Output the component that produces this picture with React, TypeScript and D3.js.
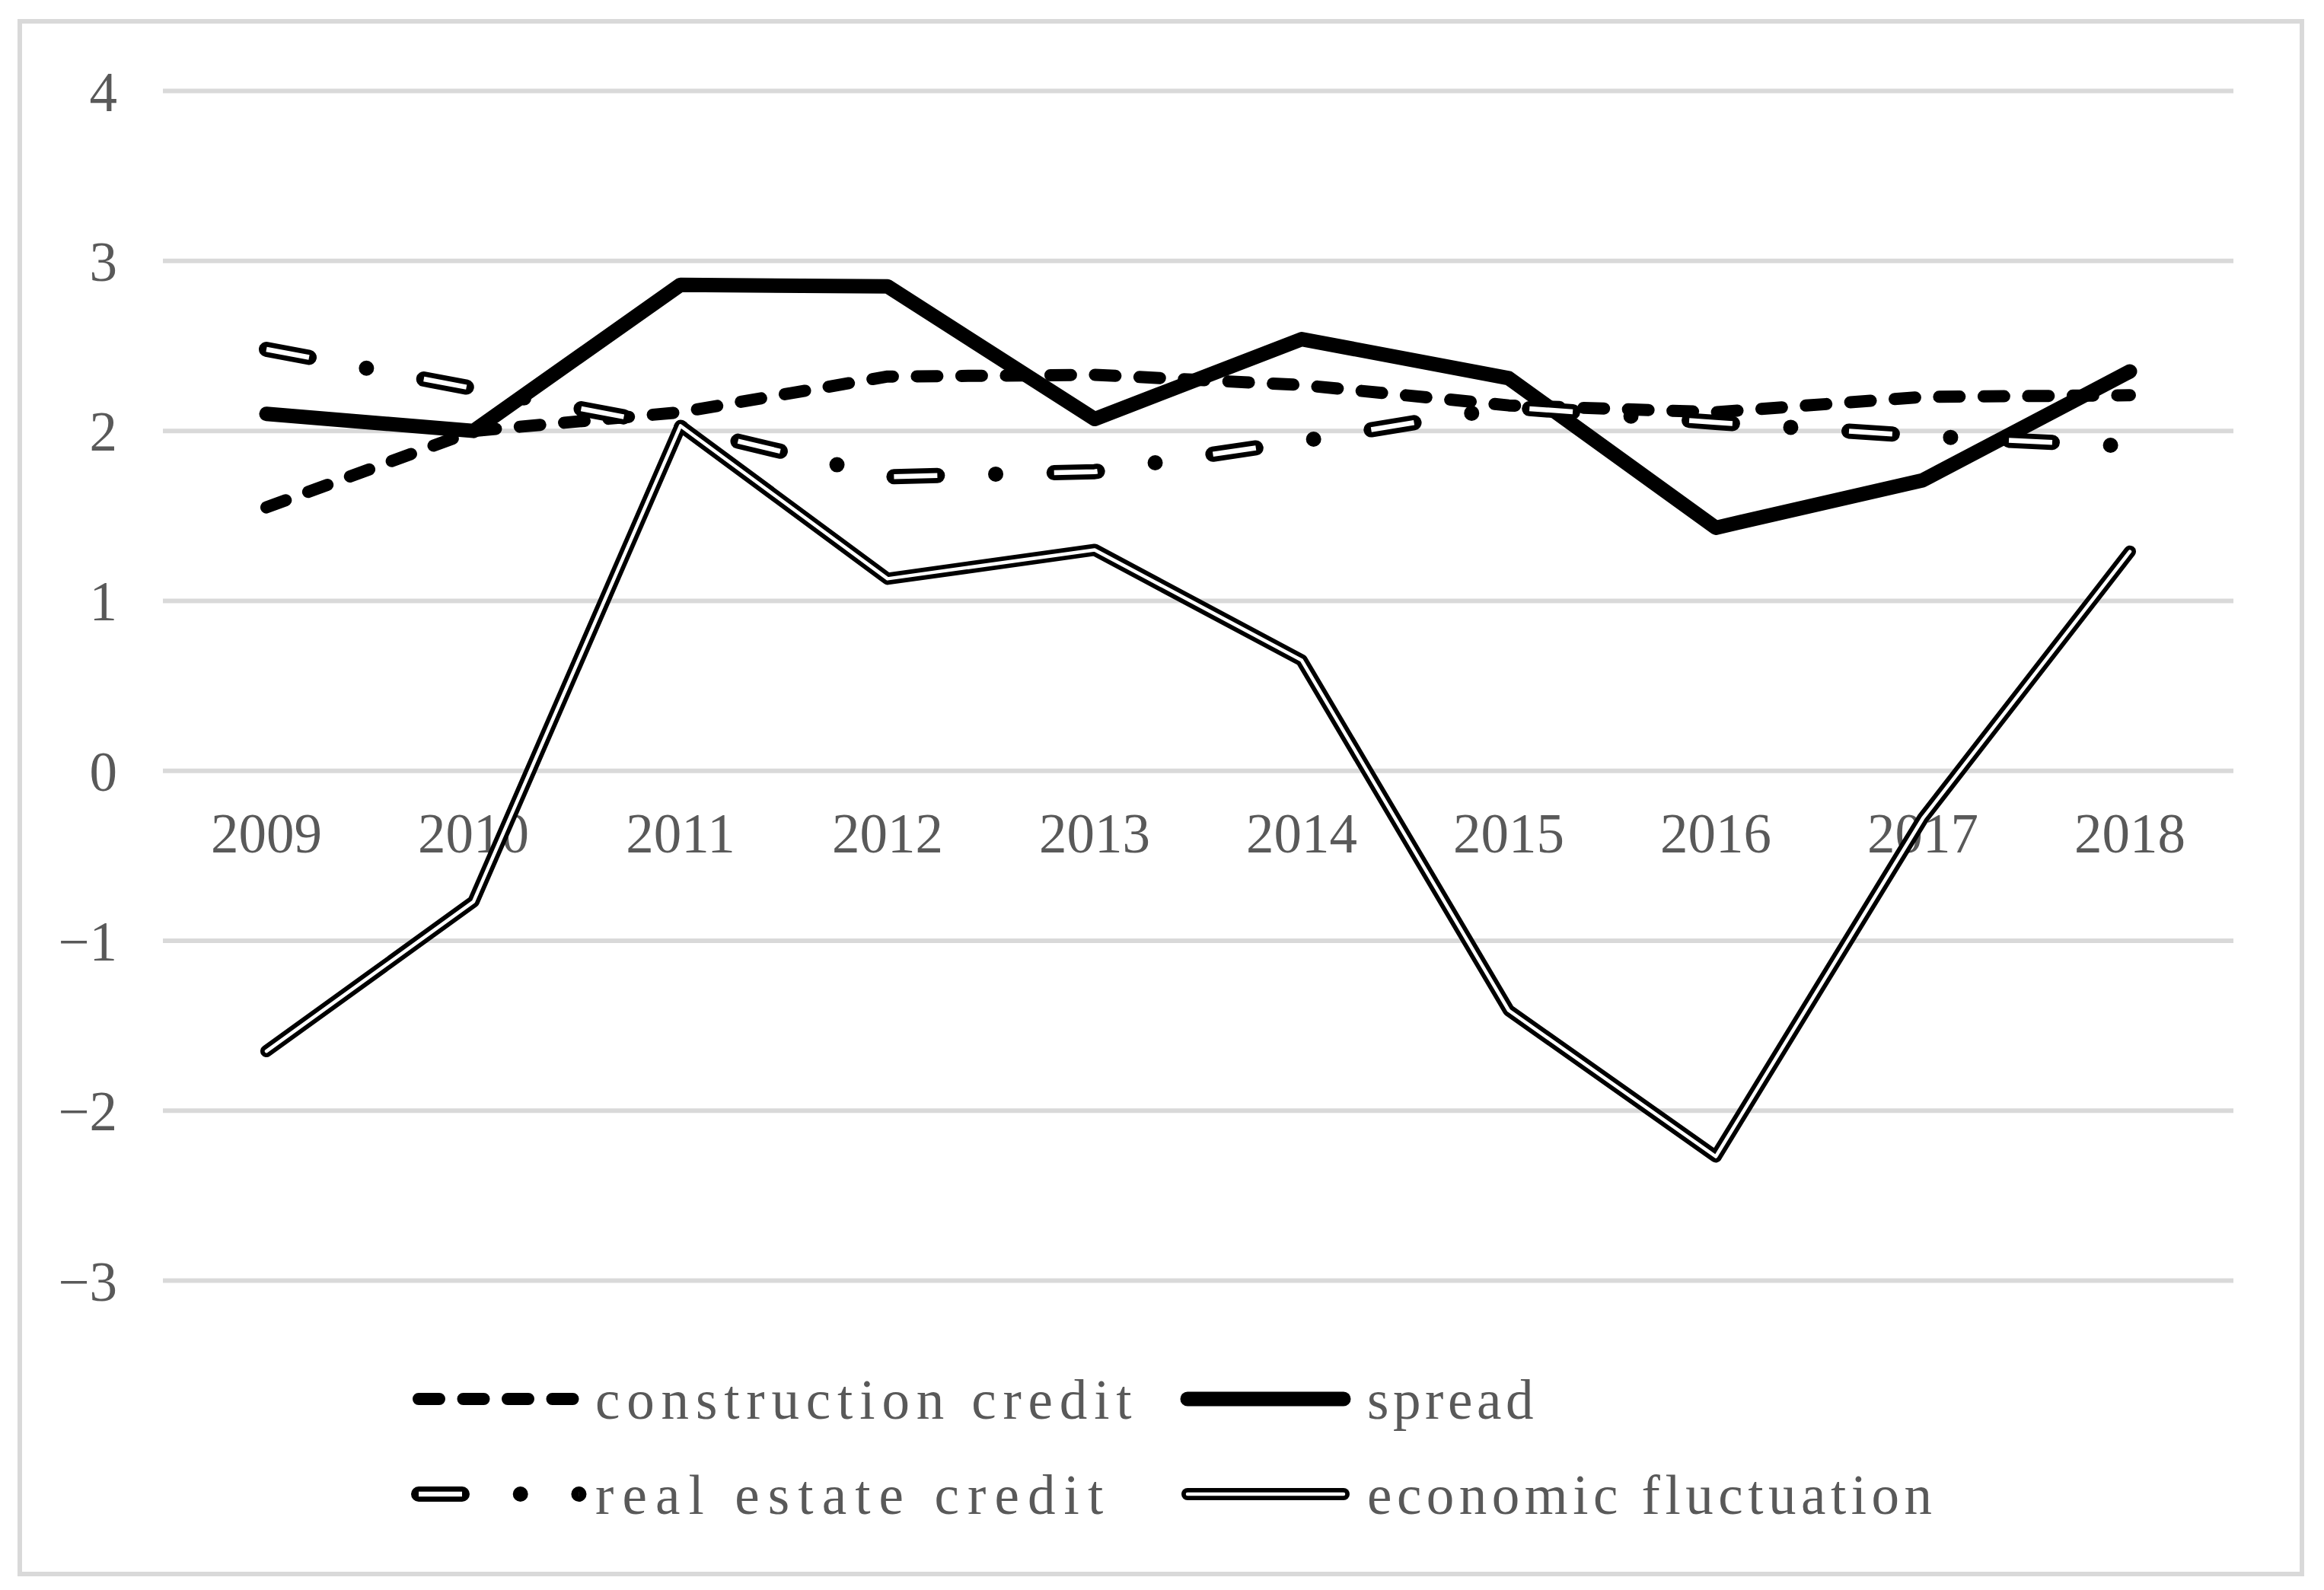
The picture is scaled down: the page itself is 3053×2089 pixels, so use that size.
import React from 'react';
import * as d3 from 'd3';

const years = ['2009', '2010', '2011', '2012', '2013', '2014', '2015', '2016', '2017', '2018'];
const constructionCredit = [1.55, 2.0, 2.11, 2.32, 2.33, 2.27, 2.15, 2.11, 2.2, 2.21];
const spread = [2.1, 2.0, 2.86, 2.85, 2.07, 2.54, 2.31, 1.43, 1.71, 2.35];
const realEstateCredit = [2.48, 2.25, 2.02, 1.73, 1.76, 1.94, 2.14, 2.05, 1.97, 1.91];
const economicFluctuation = [-1.65, -0.77, 2.03, 1.13, 1.3, 0.65, -1.41, -2.27, -0.28, 1.29];
const yTicks = [-3, -2, -1, 0, 1, 2, 3, 4];
const legendLabels = ['construction credit', 'spread', 'real estate credit', 'economic fluctuation'];

const W = 3053;
const H = 2089;
const FONT = '"Liberation Serif", "DejaVu Serif", serif';
const TEXT = '#595959';
const GRID = '#d9d9d9';

type StyleKey = 'construction' | 'spread' | 'realEstate' | 'economic';

function SeriesPath({ d, kind }: { d: string; kind: StyleKey }) {
  if (kind === 'construction') {
    return (
      <path d={d} fill="none" stroke="#000" strokeWidth={16} strokeDasharray="27 31.5"
        strokeLinecap="round" strokeLinejoin="round" />
    );
  }
  if (kind === 'spread') {
    return (
      <path d={d} fill="none" stroke="#000" strokeWidth={19}
        strokeLinecap="round" strokeLinejoin="round" />
    );
  }
  if (kind === 'realEstate') {
    return (
      <g>
        <path d={d} fill="none" stroke="#000" strokeWidth={20} strokeDasharray="57 76.7 0 76.7"
          strokeLinecap="round" strokeLinejoin="round" />
        <path d={d} fill="none" stroke="#fff" strokeWidth={6.5} strokeDasharray="57 153.4"
          strokeLinecap="butt" strokeLinejoin="round" />
      </g>
    );
  }
  return (
    <g>
      <path d={d} fill="none" stroke="#000" strokeWidth={16}
        strokeLinecap="round" strokeLinejoin="round" />
      <path d={d} fill="none" stroke="#fff" strokeWidth={4.5}
        strokeLinecap="round" strokeLinejoin="round" />
    </g>
  );
}

export default function App() {
  const x = d3.scalePoint<string>().domain(years).range([214, 2934]).padding(0.5);
  const y = d3.scaleLinear().domain([-3, 4]).range([1682.5, 119.6]);

  const line = d3
    .line<number>()
    .x((_, i) => x(years[i]) as number)
    .y((v) => y(v));

  const series: { kind: StyleKey; values: number[] }[] = [
    { kind: 'construction', values: constructionCredit },
    { kind: 'spread', values: spread },
    { kind: 'realEstate', values: realEstateCredit },
    { kind: 'economic', values: economicFluctuation },
  ];

  const legendKinds: StyleKey[] = ['construction', 'spread', 'realEstate', 'economic'];
  const legendPos = [
    { x0: 550, x1: 760, y: 1838, tx: 782 },
    { x0: 1560, x1: 1765, y: 1838, tx: 1796 },
    { x0: 550, x1: 760.5, y: 1963, tx: 782 },
    { x0: 1560, x1: 1765, y: 1963, tx: 1796 },
  ];

  const plotLeft = 214;
  const plotRight = 2934;

  return (
    <svg width={W} height={H} viewBox={`0 0 ${W} ${H}`}
      style={{ position: 'absolute', left: 0, top: 0, display: 'block', background: '#fff' }}>
      <rect x={0} y={0} width={W} height={H} fill="#fff" />
      <rect x={26} y={28} width={2998} height={2040} fill="#fff" stroke={GRID} strokeWidth={6} />

      {yTicks.map((t) => (
        <line key={'g' + t} x1={plotLeft} x2={plotRight} y1={y(t)} y2={y(t)} stroke={GRID} strokeWidth={6} />
      ))}

      {yTicks.map((t) => (
        <text key={'yl' + t} x={154} y={y(t) + 26} textAnchor="end" fontFamily={FONT} fontSize={73} fill={TEXT}>
          {t < 0 ? '\u2212' + Math.abs(t) : String(t)}
        </text>
      ))}

      {years.map((yr) => (
        <text key={'xl' + yr} x={x(yr) as number} y={y(0) + 107} textAnchor="middle" fontFamily={FONT}
          fontSize={73} fill={TEXT}>
          {yr}
        </text>
      ))}

      {series.map((s) => (
        <SeriesPath key={s.kind} d={line(s.values) as string} kind={s.kind} />
      ))}

      {legendLabels.map((lab, i) => {
        const p = legendPos[i];
        const d = `M${p.x0},${p.y}L${p.x1},${p.y}`;
        return (
          <g key={'lg' + i}>
            <SeriesPath d={d} kind={legendKinds[i]} />
            <text x={p.tx} y={p.y + 26} fontFamily={FONT} fontSize={73} fill={TEXT}
              textLength={lab.length * 37.4 - 6} lengthAdjust="spacing">
              {lab}
            </text>
          </g>
        );
      })}
    </svg>
  );
}
